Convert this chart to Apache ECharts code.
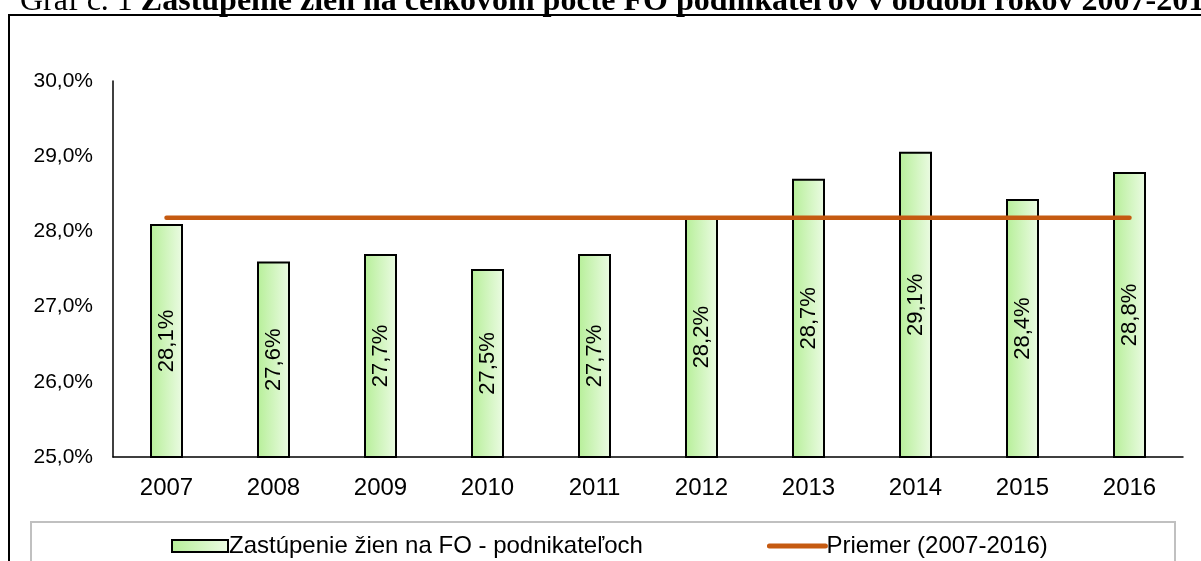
<!DOCTYPE html>
<html>
<head>
<meta charset="utf-8">
<script src="https://cdn.jsdelivr.net/npm/echarts@6/dist/echarts.min.js"></script>
<style>
  html, body { margin: 0; padding: 0; background: #fff; }
  #chart { width: 1201px; height: 561px; }
</style>
</head>
<body>
<div id="chart"></div>
<script>
const years = ["2007", "2008", "2009", "2010", "2011", "2012", "2013", "2014", "2015", "2016"];
const shareWomen = [28.1, 27.6, 27.7, 27.5, 27.7, 28.2, 28.7, 29.06, 28.43, 28.79];
const average = [28.18, 28.18, 28.18, 28.18, 28.18, 28.18, 28.18, 28.18, 28.18, 28.18];
const yTicks = [25, 26, 27, 28, 29, 30];

const barName = "Zastúpenie žien na FO - podnikateľoch";
const lineName = "Priemer (2007-2016)";

const fmt = v => v.toFixed(1).replace(".", ",") + "%";

const myChart = echarts.init(document.getElementById("chart"));

const option = {
  animation: false,
  textStyle: { fontFamily: "Liberation Sans, Arial, sans-serif", color: "#000" },
  grid: {
    left: 113,
    right: 18,
    top: 81,
    bottom: 104,
  },
  graphic: [
    // outer frame of the chart area
    {
      type: "rect",
      shape: { x: 9, y: 15, width: 1400, height: 800 },
      style: { fill: "none", stroke: "#000", lineWidth: 2 },
      silent: true,
    },
    // legend box
    {
      type: "rect",
      shape: { x: 31, y: 522, width: 1144, height: 200 },
      style: { fill: "none", stroke: "#c0c0c0", lineWidth: 2 },
      silent: true,
    },
    {
      type: "text",
      left: 20,
      top: -14,
      style: {
        text: "{n|Graf č. 1 }{b|Zastúpenie žien na celkovom počte FO podnikateľov v období rokov 2007-2016}",
        rich: {
          n: { fontFamily: "Liberation Serif", fontSize: 32, fontWeight: "normal", fill: "#000" },
          b: { fontFamily: "Liberation Serif", fontSize: 32, fontWeight: "bold", fill: "#000" },
        },
      },
    },
  ],
  legend: {
    left: 166,
    top: 529,
    itemWidth: 56,
    itemHeight: 12,
    itemGap: 124,
    textStyle: { fontSize: 24, color: "#000", padding: [0, 0, 0, -4] },
    data: [
      { name: barName, icon: "rect" },
      { name: lineName, itemStyle: { opacity: 0 }, lineStyle: { width: 5, cap: "round", color: "#c55a11" } },
    ],
  },
  xAxis: {
    type: "category",
    data: years,
    axisLine: { show: true, lineStyle: { color: "#000", width: 1.5 } },
    axisTick: { show: false },
    axisLabel: { fontSize: 24, color: "#000", margin: 19 },
  },
  yAxis: {
    type: "value",
    min: yTicks[0],
    max: yTicks[yTicks.length - 1],
    interval: 1,
    splitLine: { show: false },
    axisLine: { show: true, lineStyle: { color: "#000", width: 1.5 } },
    axisTick: { show: false },
    axisLabel: { fontSize: 21, color: "#000", margin: 20, formatter: v => fmt(v) },
  },
  series: [
    {
      name: barName,
      type: "bar",
      data: shareWomen,
      barWidth: 33,
      itemStyle: {
        color: new echarts.graphic.LinearGradient(0, 0, 1, 0, [
          { offset: 0, color: "#b6ef98" },
          { offset: 1, color: "#ecfbe4" },
        ]),
        borderColor: "#000",
        borderWidth: 2,
      },
      label: {
        show: true,
        position: "inside",
        rotate: 90,
        fontSize: 22,
        color: "#000",
        formatter: p => fmt(p.value),
      },
      z: 2,
    },
    {
      name: lineName,
      type: "line",
      data: average,
      symbol: "none",
      lineStyle: { color: "#c55a11", width: 4.5, cap: "round" },
      itemStyle: { color: "#c55a11" },
      z: 3,
    },
  ],
};

myChart.setOption(option);
</script>
</body>
</html>
